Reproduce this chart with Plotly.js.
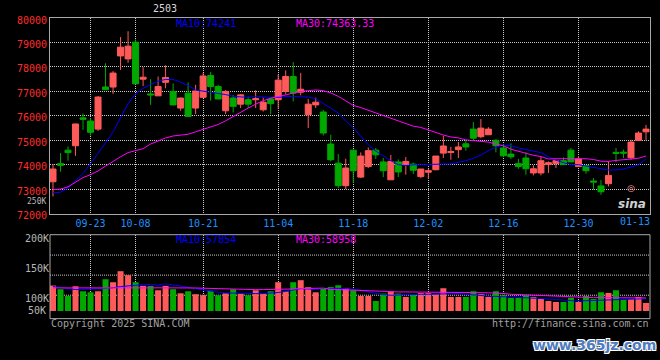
<!DOCTYPE html>
<html><head><meta charset="utf-8">
<script src="https://cdn.plot.ly/plotly-3.0.1.min.js"></script>
<style>html,body{margin:0;padding:0;background:#000;}#chart{width:660px;height:360px;}</style>
</head><body><div id="chart"></div>
<script>
// ---------------- data ----------------
const dates = [
"2024-09-12","2024-09-13","2024-09-18","2024-09-19","2024-09-20","2024-09-23","2024-09-24","2024-09-25","2024-09-26","2024-09-27","2024-09-30",
"2024-10-08","2024-10-09","2024-10-10","2024-10-11","2024-10-14","2024-10-15","2024-10-16","2024-10-17","2024-10-18","2024-10-21",
"2024-10-22","2024-10-23","2024-10-24","2024-10-25","2024-10-28","2024-10-29","2024-10-30","2024-10-31","2024-11-01","2024-11-04",
"2024-11-05","2024-11-06","2024-11-07","2024-11-08","2024-11-11","2024-11-12","2024-11-13","2024-11-14","2024-11-15","2024-11-18",
"2024-11-19","2024-11-20","2024-11-21","2024-11-22","2024-11-25","2024-11-26","2024-11-27","2024-11-28","2024-11-29","2024-12-02",
"2024-12-03","2024-12-04","2024-12-05","2024-12-06","2024-12-09","2024-12-10","2024-12-11","2024-12-12","2024-12-13","2024-12-16",
"2024-12-17","2024-12-18","2024-12-19","2024-12-20","2024-12-23","2024-12-24","2024-12-25","2024-12-26","2024-12-27","2024-12-30",
"2024-12-31","2025-01-02","2025-01-03","2025-01-06","2025-01-07","2025-01-08","2025-01-09","2025-01-10","2025-01-13"];

const open = [
73310,74050,74600,74780,75920,75790,75460,77180,77180,78450,
78330,79010,77500,76900,76820,77370,77000,76320,76930,76320,
76760,77650,77200,76210,76730,76480,76660,76660,76250,76690,
76660,77000,77610,76970,76050,76450,76160,74850,74070,73150,
74600,73500,73930,74600,74120,73390,74120,74010,74030,73520,
73700,73800,74480,74510,74620,74860,75460,75150,75230,75000,
74690,74440,74050,74280,73670,73670,74010,74050,74170,74600,
73930,73970,73340,73140,73230,74510,74520,74290,75000,75350];
const high = [
74040,74480,74750,75680,76100,75910,76810,78150,77830,79220,
79460,79120,77990,77500,77610,78070,77330,76750,77370,77270,
77750,77790,77270,77050,76860,76890,76790,77050,76750,76750,
77680,77860,78200,77760,76690,76750,76250,75230,74440,74250,
74620,74510,74710,74690,74280,74400,74220,74320,74090,73830,
73840,74360,75190,74740,74930,75010,75750,75870,75540,75050,
74850,74880,74240,74510,73980,74330,74140,74170,74310,74690,
74360,73970,73460,73380,74140,74690,74620,75030,75370,75630];
const low = [
72710,73720,74170,74370,75430,75200,75390,77060,76900,77880,
78170,77310,77220,76450,76820,77130,76430,76210,75970,76070,
76730,76620,76690,76070,76140,76320,76320,76320,76180,76070,
76290,76890,76590,76840,75500,76320,75200,74140,73050,73010,
73260,73460,73870,74240,73500,73390,73500,73600,73630,73460,
73420,73780,74280,74210,74280,74580,75000,75090,75230,74510,
74310,74240,73840,73600,73570,73570,73670,73870,74000,74110,
73920,73640,72990,72780,73120,74110,74280,74210,75000,75000];
const close = [
73830,73980,74500,75670,75860,75330,76770,77070,77750,78810,
78850,77310,77580,76860,77200,77570,76450,76730,75980,77020,
77630,77200,76690,77000,76390,76860,76480,76700,76560,76500,
77460,77610,76930,77090,76480,76560,75300,74210,73150,73870,
73760,74360,74580,74410,73760,74140,73710,74140,73780,73830,
73760,74360,74770,74540,74730,74730,75090,75500,75460,74780,
74370,74330,73930,73840,73840,74170,74090,74170,74010,74120,
74240,73760,73300,72900,73570,74470,74480,74930,75300,75460];

const ma10 = [
72860,72880,73050,73330,73650,74050,74450,74900,75350,75950,
76500,76900,77130,77280,77420,77490,77490,77380,77240,77060,
77020,76980,76930,76870,76800,76770,76754,76790,76760,76754,
76754,76790,76794,76794,76770,76700,76520,76320,76120,75790,
75520,75150,74820,74560,74360,74170,74010,73970,74000,74006,
74006,74006,74006,74040,74110,74170,74270,74400,74578,74720,
74800,74790,74690,74620,74550,74500,74330,74190,74090,74010,
74006,73960,73890,73843,73790,73790,73830,73910,74000,74241];
const ma30 = [
72990,73010,73100,73300,73480,73600,73750,73950,74150,74330,
74500,74580,74660,74850,74980,75100,75180,75220,75250,75350,
75440,75560,75650,75800,75980,76150,76320,76480,76620,76720,
76790,76880,76960,77000,77030,77060,77030,76940,76800,76600,
76430,76340,76230,76100,76000,75910,75800,75680,75580,75530,
75420,75300,75220,75140,75100,75020,74980,74960,74930,74850,
74780,74640,74560,74460,74390,74340,74240,74250,74260,74250,
74250,74250,74220,74150,74140,74180,74200,74220,74270,74363];

const volume = [
114700,108500,97300,113500,105100,103400,105100,125300,120300,138800,
132100,120300,114100,114100,106800,114100,108500,101700,105100,100100,
98400,106200,98400,101700,108500,101200,98400,106800,101200,105100,
120300,105100,120300,123700,111900,103400,109000,112400,115200,110700,
106800,97300,97300,88800,101200,105100,101200,95600,100100,102300,
102300,100100,110200,95600,95600,95600,105100,100100,95600,105100,
98400,93900,93900,98400,95600,92200,88800,87100,87100,94400,
87100,97300,92200,103400,102300,106800,92200,92200,95600,85500];
const volMa10 = [
113000,111000,109000,108000,108000,108500,109000,109500,111000,113000,
114500,116000,116300,116300,115500,117500,116000,114000,111500,109500,
107500,105000,103500,102300,101800,101300,101200,101200,101200,102000,
103000,105000,107000,109500,109000,108000,110000,110500,110000,109600,
108500,107000,104000,101500,99500,98400,99000,99500,100000,100100,
100100,100500,100800,101000,101200,100000,98600,97800,97000,96400,
96000,95600,95000,94400,93700,93000,92000,90800,89900,89400,
88800,89300,89900,90500,91000,91800,92500,92700,92700,92700];
const volMa30 = [
110700,110700,110700,110400,110200,110000,109800,109600,109800,110000,
110300,110500,110700,110800,110900,111000,111200,111300,111000,110600,
110200,109700,109300,108800,108300,107900,107900,107900,107900,107900,
108300,108600,109000,109600,110200,110700,110400,108500,108000,107000,
106400,105800,105100,104800,104400,104100,104000,104000,104000,104000,
104000,103900,103700,103600,103400,103200,103000,102800,102500,102300,
101300,100100,99500,99000,98400,98000,97500,97200,96700,95600,
94400,94400,94400,94400,94400,94300,94200,94100,94000,93900];

const gridDates = ["2024-09-23","2024-10-08","2024-10-21","2024-11-04","2024-11-18","2024-12-02","2024-12-16","2024-12-30"];
const gridLabels = ["09-23","10-08","10-21","11-04","11-18","12-02","12-16","12-30"];
const lastLabel = "01-13";
const priceTicks = [72000,73000,74000,75000,76000,77000,78000,79000,80000];
const volTicks = [100000,150000,200000];
const volTickText = ["100K","150K","200K"];

const titleText = "2503";
const maPriceLabels = ["MA10:74241", "MA30:74363.33"];
const maVolLabels = ["MA10:57854", "MA30:58958"];

// ---------------- styling ----------------
const UP = '#ff5a5a', DOWN = '#00a800';
const BLUE = '#0000ff', MAG = '#ff00ff';
const GRID = '#c8c8c8', FRAME = '#a8a8a8', GRAY = '#b8b8b8';
const MONO = 'DejaVu Sans Mono';
const volColors = close.map((c, i) => c >= open[i] ? UP : DOWN);

const traces = [
  {type:'candlestick', x:dates, open:open, high:high, low:low, close:close,
   xaxis:'x', yaxis:'y', whiskerwidth:0, hoverinfo:'skip', showlegend:false,
   increasing:{line:{color:UP, width:1}, fillcolor:UP},
   decreasing:{line:{color:DOWN, width:1}, fillcolor:DOWN}},
  {type:'scatter', mode:'lines', x:dates, y:ma10, xaxis:'x', yaxis:'y', line:{color:BLUE, width:1}, hoverinfo:'skip'},
  {type:'scatter', mode:'lines', x:dates, y:ma30, xaxis:'x', yaxis:'y', line:{color:MAG, width:1}, hoverinfo:'skip'},
  {type:'bar', x:dates, y:volume, xaxis:'x2', yaxis:'y2', marker:{color:volColors, line:{width:0}}, hoverinfo:'skip'},
  {type:'scatter', mode:'lines', x:dates, y:volMa10, xaxis:'x2', yaxis:'y2', line:{color:BLUE, width:1}, hoverinfo:'skip'},
  {type:'scatter', mode:'lines', x:dates, y:volMa30, xaxis:'x2', yaxis:'y2', line:{color:MAG, width:1}, hoverinfo:'skip'}
];

// pixel helpers for text placement (plot area: x 50..650, y 18..311)
const PX = px => (px - 50) / 600;
const PY = py => (311 - py) / 293;
function txt(text, px, py, color, xanchor, extra) {
  return Object.assign({text:text, xref:'paper', yref:'paper', x:PX(px), y:PY(py),
    xanchor:xanchor || 'left', yanchor:'middle', showarrow:false, borderpad:0,
    font:{family:MONO, size:10, color:color}}, extra || {});
}

const layout = {
  width:660, height:360,
  paper_bgcolor:'#000', plot_bgcolor:'#000',
  margin:{l:50, r:10, t:18, b:49, pad:0},
  showlegend:false, boxgap:0.2, boxgroupgap:0, bargap:0.2, hovermode:false,
  font:{family:MONO, size:10, color:GRAY},
  xaxis:{type:'category', anchor:'y', domain:[0,1], range:[-0.4, 79.53],
    rangeslider:{visible:false}, tickmode:'array', tickvals:gridDates, ticktext:gridLabels,
    ticks:'', tickfont:{family:MONO, size:10, color:'#1e90ff'},
    showgrid:true, gridcolor:GRID, gridwidth:1, griddash:'1px,1px',
    showline:true, mirror:true, linecolor:FRAME, linewidth:1, zeroline:false, fixedrange:true},
  yaxis:{anchor:'x', domain:[0.3317,1], range:[72000,80000], tickmode:'array', tickvals:priceTicks,
    ticktext:priceTicks.map(String), ticks:'', ticklabelshift:2,
    tickfont:{family:MONO, size:10, color:'#ff2a2a'},
    showgrid:true, gridcolor:GRID, gridwidth:1, griddash:'1px,1px',
    showline:true, mirror:true, linecolor:FRAME, linewidth:1, zeroline:false, fixedrange:true},
  xaxis2:{type:'category', anchor:'y2', domain:[0,1], matches:'x', range:[-0.4, 79.53],
    tickmode:'array', tickvals:gridDates, showticklabels:false, ticks:'',
    showgrid:true, gridcolor:GRID, gridwidth:1, griddash:'1px,1px',
    showline:false, zeroline:false, fixedrange:true},
  yaxis2:{anchor:'x2', domain:[0,0.2604], range:[72000,200000], tickmode:'array',
    tickvals:volTicks, ticktext:volTickText, ticks:'', ticklabelshift:4,
    tickfont:{family:MONO, size:10, color:GRAY},
    showgrid:false, showline:false, zeroline:false, fixedrange:true},
  shapes:[
    {type:'rect', xref:'paper', yref:'y2 domain', x0:0, x1:1, y0:-0.1, y1:1,
     line:{color:FRAME, width:1}, fillcolor:'rgba(0,0,0,0)', layer:'above'},
    {type:'line', xref:'paper', yref:'y2 domain', x0:0, x1:1, y0:0.733, y1:0.733, line:{color:GRID, width:1, dash:'1px,1px'}, layer:'below'},
    {type:'line', xref:'paper', yref:'y2 domain', x0:0, x1:1, y0:0.47, y1:0.47, line:{color:GRID, width:1, dash:'1px,1px'}, layer:'below'},
    {type:'line', xref:'paper', yref:'y2 domain', x0:0, x1:1, y0:0.207, y1:0.207, line:{color:GRID, width:1, dash:'1px,1px'}, layer:'below'}
  ],
  annotations:[
    txt(titleText, 165, 9, '#d8d8d8', 'center'),
    txt(maPriceLabels[0], 175, 24, BLUE),
    txt(maPriceLabels[1], 295, 24, MAG),
    txt(maVolLabels[0], 175, 239, BLUE),
    txt(maVolLabels[1], 295, 239, MAG),
    txt('250K', 47, 201.5, GRAY, 'right', {font:{family:MONO, size:8, color:GRAY}}),
    txt('50K', 47, 310, GRAY, 'right'),
    txt(lastLabel, 635, 222, '#1e90ff', 'center'),
    txt('Copyright 2025 SINA.COM', 50, 323.5, '#a0a0a0'),
    txt('http://finance.sina.com.cn', 650, 323.5, '#a0a0a0', 'right'),
    txt('\u25CE', 631, 188, '#ff9a9a', 'center', {font:{family:'DejaVu Sans', size:9, color:'#ff9a9a'}}),
    txt('sina', 632, 204, '#d0d0d0', 'center', {font:{family:'DejaVu Sans', size:12, color:'#d0d0d0', style:'italic', weight:'bold'}}),
    txt('www.365jz.com', 594, 345, '#4f7cc0', 'center', {font:{family:'DejaVu Sans', size:14, color:'#4f7cc0', weight:'bold',
      shadow:'1px 1px 0 #fff, -1px -1px 0 #fff, 1px -1px 0 #fff, -1px 1px 0 #fff'}})
  ]
};

Plotly.newPlot('chart', traces, layout, {staticPlot:true, displayModeBar:false});
</script>
</body></html>
